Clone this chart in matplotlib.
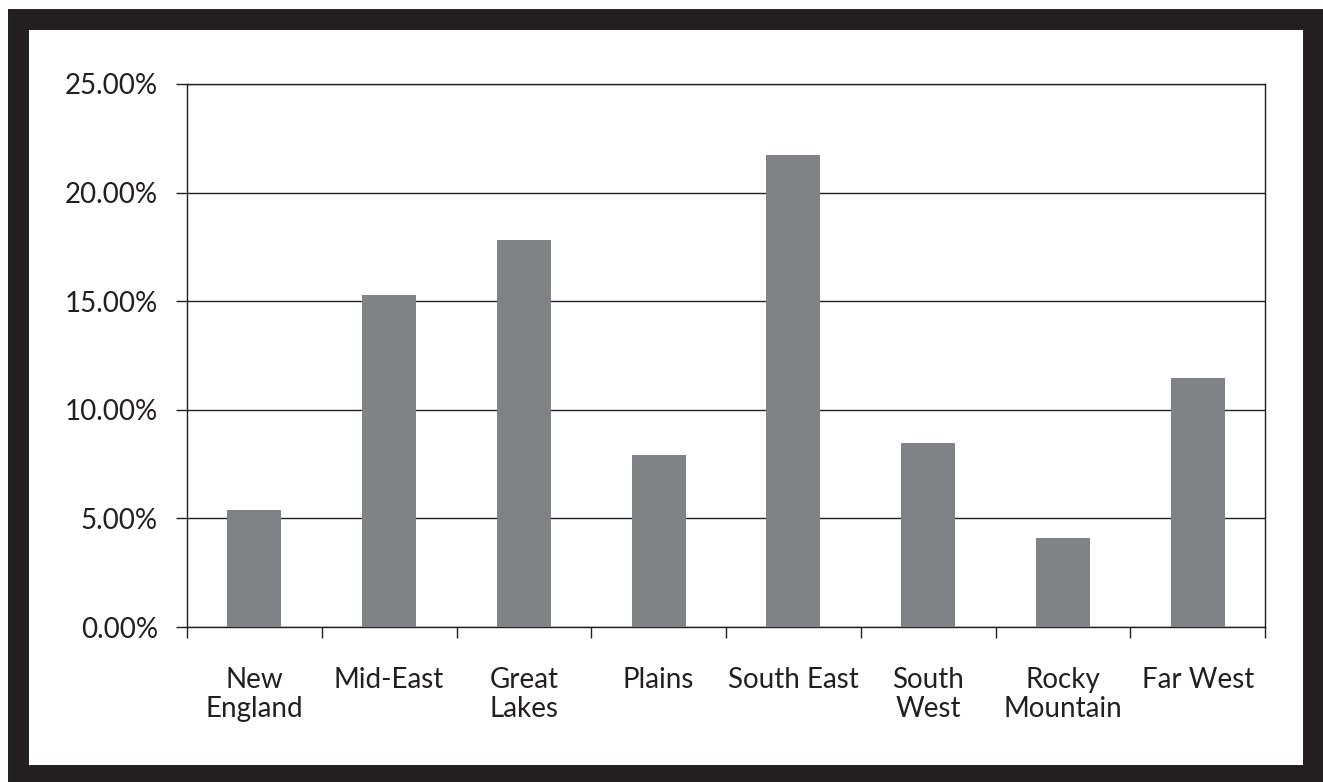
import matplotlib.pyplot as plt
from matplotlib.patches import Rectangle
from matplotlib.ticker import FuncFormatter
import numpy as np

regions = ['New\nEngland', 'Mid-East', 'Great\nLakes', 'Plains', 'South East',
           'South\nWest', 'Rocky\nMountain', 'Far West']
shares = [5.39, 15.29, 17.82, 7.92, 21.73, 8.47, 4.10, 11.46]
y_ticks = [0, 5, 10, 15, 20, 25]

ink = '#231f20'
plt.rcParams['font.family'] = ['Lato', 'DejaVu Sans']

fig = plt.figure(figsize=(13.23, 7.82), dpi=100)
ax = fig.add_axes([187 / 1323, 155 / 782, 1078 / 1323, 543 / 782])

x = np.arange(len(regions))
ax.bar(x, shares, width=0.4, color='#808285', zorder=3)

ax.set_xlim(-0.5, len(regions) - 0.5)
ax.set_ylim(0, 25)
ax.set_yticks(y_ticks)
ax.yaxis.set_major_formatter(FuncFormatter(lambda v, p: f'{v:.2f}%'))
ax.grid(axis='y', color=ink, linewidth=1.0, zorder=1)
ax.tick_params(axis='y', length=8, width=1.0, color=ink, pad=13,
               labelsize=20, labelcolor=ink)

# category labels at bar centres, tick marks on the boundaries
ax.set_xticks(x)
ax.set_xticklabels(regions, fontsize=20, color=ink, linespacing=1.15)
ax.tick_params(axis='x', which='major', length=0, pad=29)
ax.set_xticks(np.arange(-0.5, len(regions)), minor=True)
ax.tick_params(axis='x', which='minor', length=8, width=1.0, color=ink)

for side in ['left', 'right', 'bottom', 'top']:
    ax.spines[side].set_color(ink)
    ax.spines[side].set_linewidth(1.0)

# heavy black frame round the figure
fig.patches.append(Rectangle((17.5 / 1323, 7.5 / 782), 1295.5 / 1323, 756 / 782,
                             transform=fig.transFigure, fill=False,
                             edgecolor=ink, linewidth=15.1))

fig.savefig('out.png', dpi=100)
